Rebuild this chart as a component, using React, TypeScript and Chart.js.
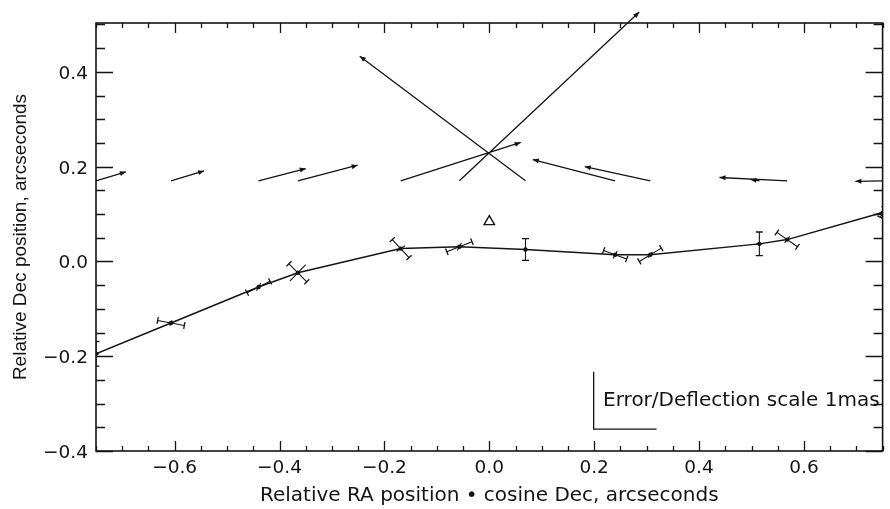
import React, { useEffect, useRef } from 'react';
import { Chart, registerables } from 'chart.js';
Chart.register(...registerables);

// Observed positions along the track (arcsec)
const raPos = [-0.75, -0.607, -0.44, -0.365, -0.169, -0.057, 0.069, 0.24, 0.307, 0.515, 0.568, 0.75];
const decPos = [-0.195, -0.13, -0.054, -0.024, 0.027, 0.031, 0.025, 0.014, 0.014, 0.037, 0.046, 0.103];

// Error cross half-arms (arcsec): major arm and minor arm
const errMajRa = [0, 0.0254, 0.022, 0.017, 0.016, 0.024, 0, 0.022, 0.021, 0, 0.0197, 0.004];
const errMajDec = [0.026, -0.0053, 0.012, -0.019, -0.019, 0.0106, 0.023, -0.0089, 0.014, 0.025, -0.0152, 0.01];
const errMinRa = [0.006, 0.002, 0.004, 0.015, 0.008, 0.004, 0.006, 0.004, 0.004, 0.006, 0.005, 0.006];
const errMinDec = [0, 0.006, 0.008, 0.017, 0.006, 0.008, 0, 0.008, 0.006, 0, 0.007, 0];

// Deflection vectors: start at (raPos, deflStartDec) and end at (deflEndRa, deflEndDec)
const deflStartDec = 0.17;
const deflEndRa = [-0.693, -0.544, -0.35, -0.251, 0.06, 0.286, -0.247, 0.083, 0.182, 0.498, 0.439, 0.698];
const deflEndDec = [0.189, 0.191, 0.196, 0.203, 0.251, 0.526, 0.433, 0.215, 0.2, 0.173, 0.177, 0.169];

// Reference marker
const refRa = [0.0];
const refDec = [0.084];

// Scale bar
const scaleBarRa = [0.199, 0.199, 0.319];
const scaleBarDec = [-0.233, -0.354, -0.354];
const scaleLabel = 'Error/Deflection scale 1mas';
const scaleLabelRa = 0.217;
const scaleLabelDec = -0.306;

// Axes
const xRange = [-0.75, 0.75];
const yRange = [-0.4, 0.503];
const xTickValues = [-0.6, -0.4, -0.2, 0.0, 0.2, 0.4, 0.6];
const xTickLabels = ['\u22120.6', '\u22120.4', '\u22120.2', '0.0', '0.2', '0.4', '0.6'];
const yTickValues = [-0.4, -0.2, 0.0, 0.2, 0.4];
const yTickLabels = ['\u22120.4', '\u22120.2', '0.0', '0.2', '0.4'];
const minorStep = 0.05;
const xTitle = 'Relative RA position \u2022 cosine Dec, arcseconds';
const yTitle = 'Relative Dec position, arcseconds';

const INK = '#141414';
const FONT = '"DejaVu Sans", sans-serif';
const TITLE_FONT = '"Liberation Sans", Arial, sans-serif';

function gap(x: number) {
  return { x, y: null as any };
}

const framePlugin = {
  id: 'frame',
  afterDatasetsDraw(chart: any) {
    const { ctx, chartArea: a, scales } = chart;
    const xs = scales.x;
    const ys = scales.y;
    ctx.save();
    ctx.strokeStyle = INK;
    ctx.fillStyle = INK;

    // arrow heads on deflection vectors
    ctx.lineWidth = 1;
    raPos.forEach((r, i) => {
      const x0 = xs.getPixelForValue(r);
      const y0 = ys.getPixelForValue(deflStartDec);
      const x1 = xs.getPixelForValue(deflEndRa[i]);
      const y1 = ys.getPixelForValue(deflEndDec[i]);
      const ang = Math.atan2(y1 - y0, x1 - x0);
      const L = 6;
      const W = 2.5;
      const bx = x1 - L * Math.cos(ang);
      const by = y1 - L * Math.sin(ang);
      ctx.beginPath();
      ctx.moveTo(x1, y1);
      ctx.lineTo(bx + W * Math.sin(ang), by - W * Math.cos(ang));
      ctx.lineTo(bx - W * Math.sin(ang), by + W * Math.cos(ang));
      ctx.closePath();
      ctx.fill();
    });

    ctx.lineWidth = 1.6;
    ctx.strokeRect(a.left, a.top, a.right - a.left, a.bottom - a.top);
    ctx.lineWidth = 1.3;
    const isMajor = (v: number, list: number[]) => list.some((m) => Math.abs(m - v) < 1e-6);
    // x ticks (bottom and top)
    for (let k = Math.ceil(xRange[0] / minorStep); k <= Math.floor(xRange[1] / minorStep); k++) {
      const v = k * minorStep;
      const px = Math.round(xs.getPixelForValue(v)) + 0.5;
      const len = isMajor(v, xTickValues) ? 10 : 5;
      ctx.beginPath();
      ctx.moveTo(px, a.bottom);
      ctx.lineTo(px, a.bottom - len);
      ctx.moveTo(px, a.top);
      ctx.lineTo(px, a.top + len);
      ctx.stroke();
    }
    for (let k = Math.ceil(yRange[0] / minorStep - 1e-6); k <= Math.floor(yRange[1] / minorStep); k++) {
      const v = k * minorStep;
      const py = Math.round(ys.getPixelForValue(v)) + 0.5;
      const len = isMajor(v, yTickValues) ? 17 : 9;
      ctx.beginPath();
      ctx.moveTo(a.left, py);
      ctx.lineTo(a.left + len, py);
      ctx.moveTo(a.right, py);
      ctx.lineTo(a.right - len, py);
      ctx.stroke();
    }

    // tick labels
    ctx.font = '18.5px ' + FONT;
    ctx.textBaseline = 'alphabetic';
    ctx.textAlign = 'center';
    xTickValues.forEach((v, i) => {
      ctx.fillText(xTickLabels[i], xs.getPixelForValue(v), a.bottom + 22);
    });
    ctx.textAlign = 'right';
    yTickValues.forEach((v, i) => {
      ctx.fillText(yTickLabels[i], a.left - 8, ys.getPixelForValue(v) + 7);
    });

    // scale label and x title
    ctx.font = '20px ' + FONT;
    ctx.textAlign = 'left';
    ctx.fillText(scaleLabel, xs.getPixelForValue(scaleLabelRa), ys.getPixelForValue(scaleLabelDec));
    ctx.textAlign = 'center';
    ctx.fillText(xTitle, (a.left + a.right) / 2, 501);

    // y title
    ctx.font = '19px ' + TITLE_FONT;
    ctx.translate(26, (a.top + a.bottom) / 2);
    ctx.rotate(-Math.PI / 2);
    ctx.textBaseline = 'alphabetic';
    ctx.fillText(yTitle, 0, 0);
    ctx.restore();
  },
};

export default function App() {
  const ref = useRef<HTMLCanvasElement | null>(null);

  useEffect(() => {
    document.body.style.margin = '0';
    const canvas = ref.current;
    if (!canvas) return;

    const path = raPos.map((x, i) => ({ x, y: decPos[i] }));

    const errSegs: any[] = [];
    const capPts: any[] = [];
    const capArm: number[][] = [];
    raPos.forEach((x, i) => {
      const y = decPos[i];
      errSegs.push({ x: x - errMajRa[i], y: y - errMajDec[i] }, { x: x + errMajRa[i], y: y + errMajDec[i] }, gap(x));
      errSegs.push({ x: x - errMinRa[i], y: y - errMinDec[i] }, { x: x + errMinRa[i], y: y + errMinDec[i] }, gap(x));
      capPts.push({ x: x - errMajRa[i], y: y - errMajDec[i] }, { x: x + errMajRa[i], y: y + errMajDec[i] });
      capArm.push([errMajRa[i], errMajDec[i]], [errMajRa[i], errMajDec[i]]);
    });

    const arrowSegs: any[] = [];
    raPos.forEach((x, i) => {
      arrowSegs.push({ x, y: deflStartDec }, { x: deflEndRa[i], y: deflEndDec[i] }, gap(x));
    });

    const chart = new Chart(canvas, {
      type: 'scatter',
      data: {
        datasets: [
          {
            data: path,
            showLine: true,
            borderColor: INK,
            borderWidth: 1.5,
            pointRadius: 2.2,
            pointBackgroundColor: INK,
            pointBorderWidth: 0,
          },
          {
            data: errSegs,
            showLine: true,
            spanGaps: false,
            borderColor: INK,
            borderWidth: 1.1,
            pointRadius: 0,
          },
          {
            data: capPts,
            pointStyle: 'line',
            pointRadius: 3.5,
            borderColor: INK,
            borderWidth: 1.3,
            rotation: (c: any) => {
              const arm = capArm[c.dataIndex];
              if (!arm) return 0;
              const sx = c.chart.scales.x;
              const sy = c.chart.scales.y;
              const dx = sx.getPixelForValue(arm[0]) - sx.getPixelForValue(0);
              const dy = sy.getPixelForValue(arm[1]) - sy.getPixelForValue(0);
              return (Math.atan2(dy, dx) * 180) / Math.PI + 90;
            },
          } as any,
          {
            data: arrowSegs,
            showLine: true,
            spanGaps: false,
            borderColor: INK,
            borderWidth: 1.3,
            pointRadius: 0,
            clip: false,
          } as any,
          {
            data: refRa.map((x, i) => ({ x, y: refDec[i] })),
            pointStyle: 'triangle',
            pointRadius: 6,
            backgroundColor: '#ffffff',
            borderColor: INK,
            borderWidth: 1.4,
          },
          {
            data: scaleBarRa.map((x, i) => ({ x, y: scaleBarDec[i] })),
            showLine: true,
            borderColor: INK,
            borderWidth: 1.3,
            pointRadius: 0,
          },
        ],
      },
      options: {
        animation: false,
        responsive: false,
        devicePixelRatio: 1,
        layout: { padding: { top: 23, right: 4, left: 0, bottom: 0 } },
        plugins: { legend: { display: false }, tooltip: { enabled: false } },
        scales: {
          x: {
            type: 'linear',
            min: xRange[0],
            max: xRange[1],
            grid: { display: false, drawTicks: false },
            border: { display: false },
            ticks: { display: false },
            afterFit: (s: any) => {
              s.height = 58;
              s.paddingLeft = 0;
              s.paddingRight = 0;
            },
          },
          y: {
            type: 'linear',
            min: yRange[0],
            max: yRange[1],
            grid: { display: false, drawTicks: false },
            border: { display: false },
            ticks: { display: false },
            afterFit: (s: any) => {
              s.width = 96;
              s.paddingTop = 0;
              s.paddingBottom = 0;
            },
          },
        },
      } as any,
      plugins: [framePlugin],
    });
    return () => chart.destroy();
  }, []);

  return (
    <div style={{ position: 'absolute', left: 0, top: 0, width: 890, height: 509, background: '#fff' }}>
      <canvas ref={ref} width={890} height={509} style={{ width: 890, height: 509 }} />
    </div>
  );
}
